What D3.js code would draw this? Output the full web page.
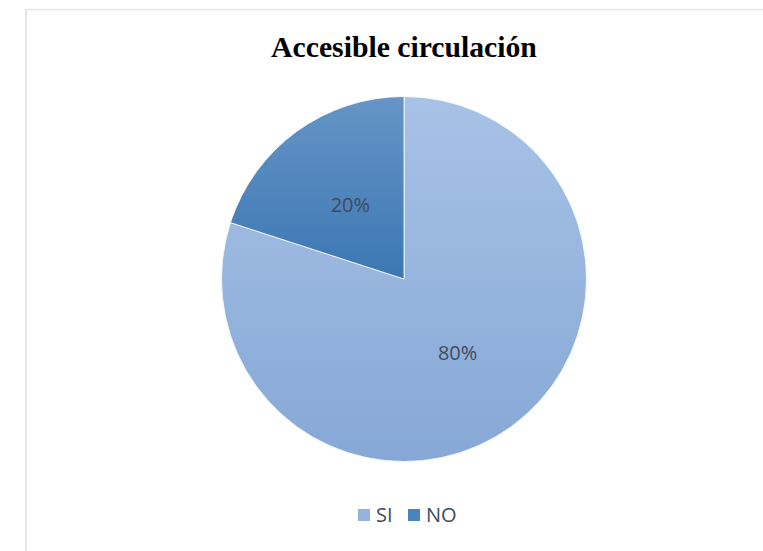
<!DOCTYPE html>
<html>
<head>
<meta charset="utf-8">
<script src="https://cdn.jsdelivr.net/npm/d3@7"></script>
<style>
  body { margin: 0; background: #fff; }
  svg { display: block; }
</style>
</head>
<body>
<svg id="chart"></svg>
<script>
var categories = ["SI", "NO"];
var values = [80, 20];
var labels = ["80%", "20%"];

var W = 763, H = 551;
var cx = 404, cy = 279, r = 182.5;

var svg = d3.select("#chart").attr("width", W).attr("height", H);

// frame lines
svg.append("line").attr("x1", 25).attr("x2", W).attr("y1", 9.5).attr("y2", 9.5)
  .attr("stroke", "#e3e6ec").attr("stroke-width", 1.5);
svg.append("line").attr("x1", 26).attr("x2", 26).attr("y1", 9).attr("y2", H)
  .attr("stroke", "#e3e6ec").attr("stroke-width", 2);

var grads = [
  {id: "gSI", top: "#a7c2e6", bottom: "#86a8d6"},
  {id: "gNO", top: "#6695c6", bottom: "#3b77b3"}
];
var defs = svg.append("defs");
grads.forEach(function(g) {
  var lg = defs.append("linearGradient").attr("id", g.id)
    .attr("x1", 0).attr("x2", 0).attr("y1", 0).attr("y2", 1);
  lg.append("stop").attr("offset", "0%").attr("stop-color", g.top);
  lg.append("stop").attr("offset", "100%").attr("stop-color", g.bottom);
});

svg.append("text")
  .attr("x", cx).attr("y", 57)
  .attr("text-anchor", "middle")
  .attr("font-family", "'Liberation Serif', 'Times New Roman', serif")
  .attr("font-weight", "bold")
  .attr("font-size", 29.7)
  .attr("fill", "#000")
  .text("Accesible circulación");

var pie = d3.pie().sort(null).value(function(d) { return d; });
var arcs = pie(values);
var arc = d3.arc().innerRadius(0).outerRadius(r);

var g = svg.append("g").attr("transform", "translate(" + cx + "," + cy + ")");
g.selectAll("path").data(arcs).enter().append("path")
  .attr("d", arc)
  .attr("fill", function(d, i) { return "url(#" + grads[i].id + ")"; })
  .attr("stroke", "#ffffff").attr("stroke-width", 0.8);

var labelArc = d3.arc().innerRadius(r * 0.5).outerRadius(r * 0.5);
g.selectAll("text.lbl").data(arcs).enter().append("text")
  .attr("class", "lbl")
  .attr("x", function(d) { return labelArc.centroid(d)[0]; })
  .attr("y", function(d) { return labelArc.centroid(d)[1]; })
  .attr("dy", "0.35em")
  .attr("text-anchor", "middle")
  .attr("font-family", "'Open Sans', 'Noto Sans', sans-serif")
  .attr("font-size", 20)
  .attr("fill", "#404b5c")
  .text(function(d, i) { return labels[i]; });

// legend
var legX = [358, 408];
var leg = svg.append("g");
categories.forEach(function(c, i) {
  leg.append("rect").attr("x", legX[i]).attr("y", 509).attr("width", 12).attr("height", 12)
    .attr("fill", i === 0 ? "#94b4de" : "#4a84bf");
  leg.append("text").attr("x", legX[i] + 18).attr("y", 522)
    .attr("font-family", "'Open Sans', 'Noto Sans', sans-serif")
    .attr("font-size", 20)
    .attr("fill", "#404b5c")
    .text(c);
});
</script>
</body>
</html>
